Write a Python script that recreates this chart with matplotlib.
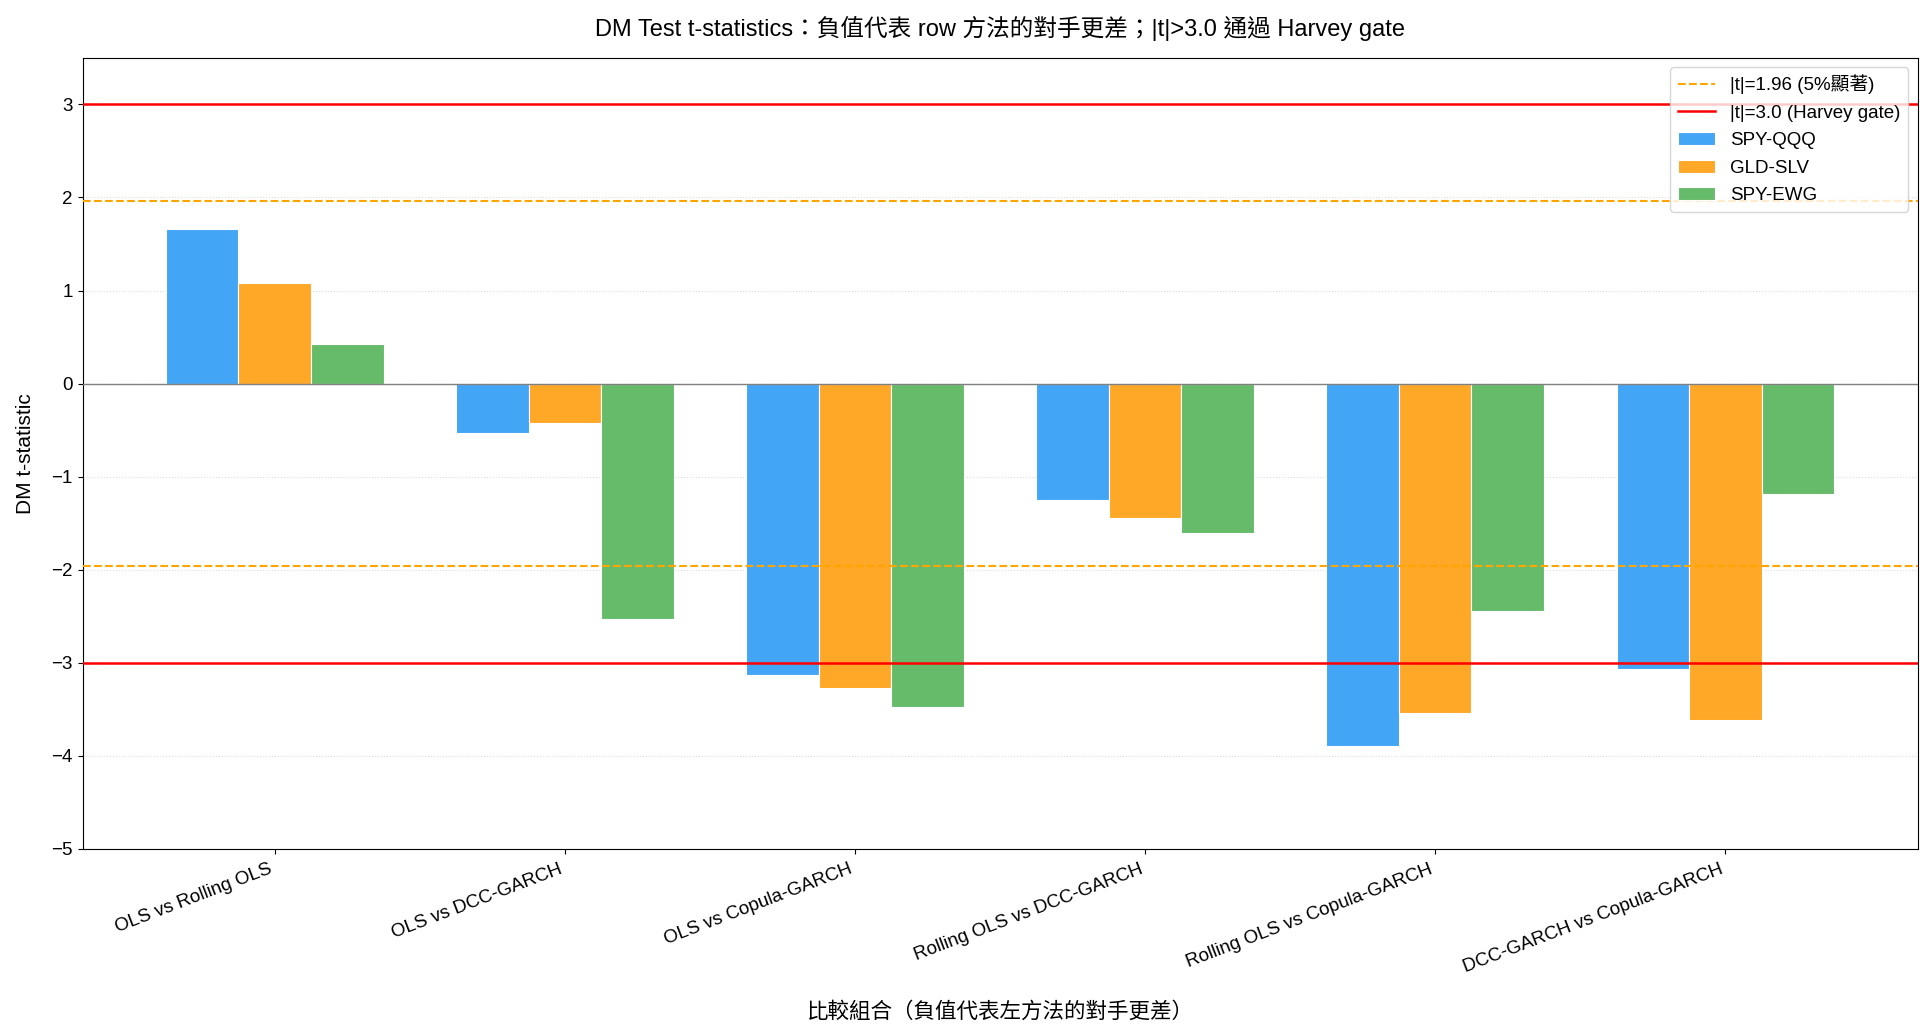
import matplotlib
matplotlib.use("Agg")
import matplotlib.pyplot as plt
import numpy as np

plt.rcParams['font.family'] = ['Liberation Sans', 'Noto Sans CJK TC', 'DejaVu Sans']
plt.rcParams['axes.unicode_minus'] = True

categories = ["OLS vs Rolling OLS", "OLS vs DCC-GARCH", "OLS vs Copula-GARCH",
              "Rolling OLS vs DCC-GARCH", "Rolling OLS vs Copula-GARCH",
              "DCC-GARCH vs Copula-GARCH"]
series_names = ["SPY-QQQ", "GLD-SLV", "SPY-EWG"]
spy_qqq = [1.66, -0.53, -3.13, -1.25, -3.89, -3.07]
gld_slv = [1.08, -0.42, -3.27, -1.44, -3.54, -3.61]
spy_ewg = [0.43, -2.53, -3.47, -1.61, -2.44, -1.19]
colors = ["#42A5F5", "#FFA726", "#66BB6A"]
yticks = [-5, -4, -3, -2, -1, 0, 1, 2, 3]

fig = plt.figure(figsize=(19.33, 10.34), dpi=100)
ax = fig.add_axes([0.0427, 0.179, 0.9493, 0.765])

x = np.arange(len(categories))
w = 0.25
for i, (name, vals) in enumerate(zip(series_names, [spy_qqq, gld_slv, spy_ewg])):
    ax.bar(x + (i - 1) * w, vals, w, label=name, color=colors[i],
           edgecolor='white', linewidth=0.8, zorder=2)

ax.axhline(0, color='grey', linewidth=1.0, zorder=3)
ax.axhline(1.96, color='orange', linestyle='--', linewidth=1.5, label='|t|=1.96 (5%顯著)', zorder=3)
ax.axhline(-1.96, color='orange', linestyle='--', linewidth=1.5, zorder=3)
ax.axhline(3.0, color='red', linestyle='-', linewidth=1.8, label='|t|=3.0 (Harvey gate)', zorder=3)
ax.axhline(-3.0, color='red', linestyle='-', linewidth=1.8, zorder=3)

ax.set_ylim(-5, 3.5)
ax.set_yticks(yticks)
ax.yaxis.grid(True, linestyle=':', color='#dddddd', linewidth=0.8, zorder=0)
ax.set_axisbelow(True)
ax.set_xticks(x)
ax.set_xticklabels(categories, rotation=21, ha='right', fontsize=13.5)
ax.tick_params(axis='x', pad=5)
ax.tick_params(axis='y', labelsize=13.5)
ax.set_ylabel('DM t-statistic', fontsize=15, labelpad=12)
ax.set_xlabel('比較組合（負值代表左方法的對手更差）', fontsize=15.5, labelpad=19)
ax.set_title('DM Test t-statistics：負值代表 row 方法的對手更差；|t|>3.0 通過 Harvey gate',
             fontsize=17, pad=16)

handles, labels = ax.get_legend_handles_labels()
order = [labels.index('|t|=1.96 (5%顯著)'), labels.index('|t|=3.0 (Harvey gate)')] + \
        [labels.index(n) for n in series_names]
ax.legend([handles[k] for k in order], [labels[k] for k in order],
          loc='upper right', fontsize=13.5, framealpha=0.8, labelspacing=0.55)

fig.savefig('out.png', dpi=100)
